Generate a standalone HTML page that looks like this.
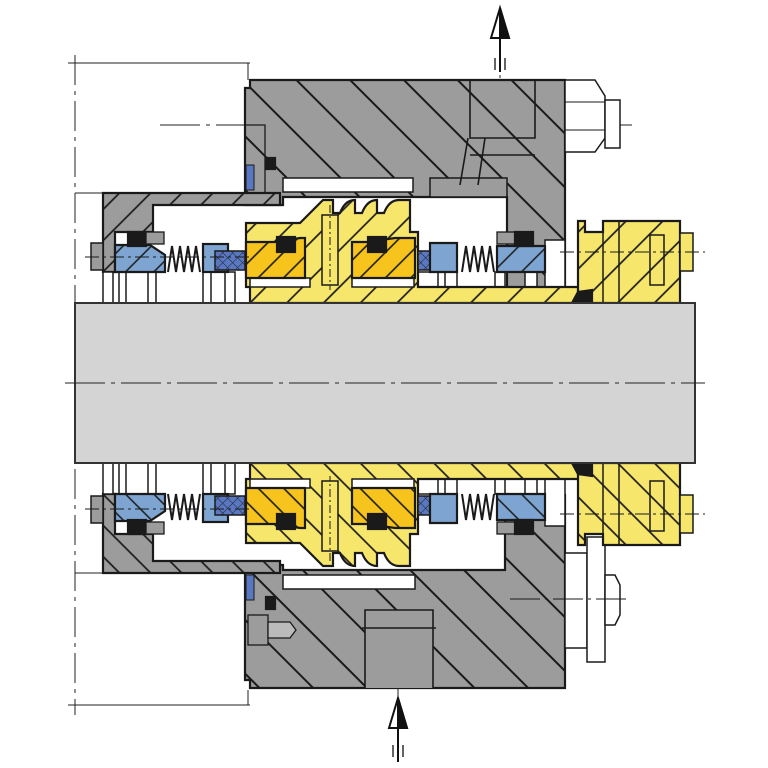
<!DOCTYPE html>
<html><head><meta charset="utf-8"><style>html,body{margin:0;padding:0;background:#fff}svg{display:block}</style></head><body>
<svg width="768" height="768" viewBox="0 0 768 768" xmlns="http://www.w3.org/2000/svg">
<defs>
<pattern id="hg" width="38" height="38" patternUnits="userSpaceOnUse" patternTransform="rotate(-45)"><rect width="38" height="38" fill="#9c9c9c"/><line x1="1" y1="0" x2="1" y2="38" stroke="#1a1a1a" stroke-width="2"/></pattern>
<pattern id="hg2" width="22" height="22" patternUnits="userSpaceOnUse" patternTransform="rotate(45)"><rect width="22" height="22" fill="#9c9c9c"/><line x1="1" y1="0" x2="1" y2="22" stroke="#1a1a1a" stroke-width="1.7"/></pattern>
<pattern id="hy" width="26" height="26" patternUnits="userSpaceOnUse" patternTransform="rotate(45)"><rect width="26" height="26" fill="#f7e66c"/><line x1="1" y1="0" x2="1" y2="26" stroke="#1a1a1a" stroke-width="1.7"/></pattern>
<pattern id="ho" width="18" height="18" patternUnits="userSpaceOnUse" patternTransform="rotate(45)"><rect width="18" height="18" fill="#f6c41c"/><line x1="1" y1="0" x2="1" y2="18" stroke="#1a1a1a" stroke-width="1.6"/></pattern>
<pattern id="hb" width="20" height="20" patternUnits="userSpaceOnUse" patternTransform="rotate(45)"><rect width="20" height="20" fill="#7ea5d2"/><line x1="1" y1="0" x2="1" y2="20" stroke="#1a1a1a" stroke-width="1.5"/></pattern>
<pattern id="hx" width="7" height="7" patternUnits="userSpaceOnUse" patternTransform="rotate(45)"><rect width="7" height="7" fill="#5a78c0"/><line x1="0" y1="0" x2="0" y2="7" stroke="#223" stroke-width="1"/><line x1="0" y1="0" x2="7" y2="0" stroke="#223" stroke-width="1"/></pattern>
<g id="seal" stroke="#1a1a1a" stroke-width="2.2">
  <path d="M103,193 H280 V205 H153 V232 H115 V272 H103 Z" fill="url(#hg2)"/>
  <rect x="91" y="243" width="12" height="27" fill="#9c9c9c" stroke-width="1.5"/>
  <g fill="#fff" stroke-width="1.5">
    <rect x="103" y="272" width="10" height="31"/><rect x="119" y="272" width="7" height="31"/>
    <rect x="148" y="272" width="8" height="31"/><rect x="203" y="272" width="8" height="31"/>
    <rect x="225" y="272" width="10" height="31"/><rect x="495" y="272" width="10" height="15"/>
    <rect x="525" y="272" width="12" height="15"/><rect x="545" y="240" width="20" height="47"/>
    <rect x="418" y="272" width="20" height="15"/><rect x="445" y="272" width="12" height="15"/>
  </g>
  <path d="M115,245 H150 L165,255 V272 H115 Z" fill="url(#hb)"/>
  <rect x="128" y="232" width="18" height="14" fill="#1a1a1a"/>
  <rect x="146" y="232" width="18" height="12" fill="#9c9c9c" stroke-width="1.3"/>
  <path d="M168,272 L172,246 L176,272 L180,246 L184,272 L188,246 L192,272 L196,246 L200,272" fill="none" stroke-width="2"/>
  <rect x="203" y="244" width="25" height="28" fill="#7ea5d2"/>
  <rect x="215" y="251" width="30" height="19" fill="url(#hx)" stroke-width="1.5"/>
  <path d="M246,223 H300 L323,200 H333 V213 H340 Q345,200 355,200 V213 H362 Q367,200 377,200 V213 H384 Q389,200 399,200 H410 V232 H418 V287 H578 L592,285 V303 H250 V287 H246 Z" fill="url(#hy)"/>
  <rect x="250" y="278" width="60" height="9" fill="#fff" stroke-width="1.5"/>
  <rect x="352" y="278" width="62" height="9" fill="#fff" stroke-width="1.5"/>
  <path d="M246,242 H275 L300,238 H305 V278 H246 Z" fill="url(#ho)"/>
  <path d="M352,242 H368 L395,238 H415 V278 H352 Z" fill="url(#ho)"/>
  <rect x="277" y="237" width="18" height="15" fill="#1a1a1a"/>
  <rect x="368" y="237" width="18" height="15" fill="#1a1a1a"/>
  <rect x="322" y="215" width="16" height="70" fill="#f7e66c" stroke-width="1.5"/>
  <line x1="330" y1="205" x2="330" y2="290" stroke-width="1" stroke-dasharray="8,3,2,3"/>
  <rect x="418" y="251" width="22" height="19" fill="url(#hx)" stroke-width="1.5"/>
  <path d="M430,243 H457 V272 H430 Z" fill="#7ea5d2"/>
  <path d="M462,272 L466,246 L470,272 L474,246 L478,272 L482,246 L486,272 L490,246 L494,272" fill="none" stroke-width="2"/>
  <path d="M497,246 H545 V272 H497 Z" fill="url(#hb)"/>
  <rect x="497" y="232" width="18" height="12" fill="#9c9c9c" stroke-width="1.3"/>
  <rect x="515" y="232" width="18" height="14" fill="#1a1a1a"/>
  <path d="M578,221 H585 V232 H603 V221 H680 V303 H592 V290 L578,292 Z" fill="url(#hy)"/>
  <rect x="603" y="221" width="16" height="82" fill="none" stroke-width="1.5"/>
  <rect x="650" y="235" width="14" height="50" fill="none" stroke-width="1.5"/>
  <rect x="680" y="233" width="13" height="38" fill="#f7e66c" stroke-width="1.5"/>
  <path d="M572,303 L578,292 H590 V303 Z" fill="#1a1a1a"/>
  <line x1="560" y1="252" x2="705" y2="252" stroke-width="1" stroke-dasharray="14,4,3,4"/>
  <line x1="85" y1="257" x2="250" y2="257" stroke-width="1" stroke-dasharray="14,4,3,4"/>
</g>
</defs>
<g stroke="#222" stroke-width="1" fill="none">
  <line x1="75" y1="55" x2="75" y2="715" stroke-dasharray="30,6,4,6"/>
  <line x1="68" y1="63" x2="250" y2="63"/>
  <line x1="68" y1="705" x2="250" y2="705"/>
  <line x1="248" y1="63" x2="248" y2="80"/>
  <line x1="248" y1="690" x2="248" y2="705"/>
  <line x1="75" y1="193" x2="103" y2="193"/>
  <line x1="75" y1="573" x2="103" y2="573"/>
  <line x1="160" y1="125" x2="632" y2="125" stroke-dasharray="40,6,4,6"/>
  <line x1="500" y1="40" x2="500" y2="190" stroke-dasharray="30,5,3,5"/>
  <line x1="398" y1="590" x2="398" y2="700" stroke-dasharray="30,5,3,5"/>
</g>
<g stroke="#1a1a1a" stroke-width="2.2">
  <path d="M250,80 H565 V288 H507 V197 H283 V205 H245 V88 H250 Z" fill="url(#hg)"/>
  <rect x="283" y="178" width="130" height="14" fill="#fff" stroke-width="1.5"/>
  <rect x="430" y="178" width="77" height="19" fill="#9c9c9c" stroke-width="1.5"/>
  <path d="M470,80 V138 H535 V80 M468,138 L460,185 M485,138 L478,185 M470,155 H535" fill="none" stroke-width="1.6"/>
  <path d="M245,125 H265 V195" fill="none" stroke-width="1.3"/>
  <rect x="266" y="158" width="9" height="11" fill="#1a1a1a"/>
  <rect x="246" y="165" width="8" height="25" fill="#5a78c0" stroke-width="1"/>
  <path d="M565,80 H595 L605,96 V138 L595,152 H565 Z" fill="#fff" stroke-width="1.5"/>
  <path d="M565,102 H605 M565,130 H605" stroke-width="1"/>
  <rect x="605" y="100" width="15" height="48" fill="#fff" stroke-width="1.5"/>
</g>
<g stroke="#1a1a1a" stroke-width="2.2">
  <path d="M245,565 H283 V570 H505 V495 H565 V688 H250 V680 H245 Z" fill="url(#hg)"/>
  <rect x="283" y="575" width="132" height="14" fill="#fff" stroke-width="1.5"/>
  <path d="M365,688 V610 H433 V688 M362,628 H436" fill="#9c9c9c" stroke-width="1.6"/>
  <rect x="246" y="575" width="8" height="25" fill="#5a78c0" stroke-width="1"/>
  <rect x="266" y="597" width="9" height="12" fill="#1a1a1a"/>
  <rect x="248" y="615" width="20" height="30" fill="#9c9c9c" stroke-width="1.3"/>
  <path d="M268,622 H290 L296,630 L290,638 H268 Z" fill="#bbb" stroke-width="1.3"/>
  <rect x="565" y="553" width="22" height="95" fill="#fff" stroke-width="1.5"/>
  <rect x="587" y="537" width="18" height="125" fill="#fff" stroke-width="1.5"/>
  <path d="M605,575 H615 L620,585 V615 L615,625 H605 Z" fill="#fff" stroke-width="1.5"/>
  <line x1="510" y1="599" x2="630" y2="599" stroke-width="1" stroke-dasharray="30,5,3,5"/>
</g>
<use href="#seal"/>
<use href="#seal" transform="matrix(1,0,0,-1,0,766)"/>
<rect x="75" y="303" width="620" height="160" fill="#d4d4d4" stroke="#333" stroke-width="2"/>
<line x1="65" y1="383" x2="705" y2="383" stroke="#222" stroke-width="1" stroke-dasharray="40,6,4,6"/>
<g stroke="#111" stroke-width="2">
  <line x1="500" y1="35" x2="500" y2="72"/>
  <path d="M491,38 L500,8 L509,38 Z" fill="#fff"/>
  <path d="M500,8 L509,38 H500 Z" fill="#111"/>
  <line x1="495" y1="58" x2="495" y2="70" stroke-width="1.3"/><line x1="505" y1="58" x2="505" y2="70" stroke-width="1.3"/>
  <line x1="398" y1="725" x2="398" y2="762"/>
  <path d="M389,728 L398,698 L407,728 Z" fill="#fff"/>
  <path d="M398,698 L407,728 H398 Z" fill="#111"/>
  <line x1="393" y1="745" x2="393" y2="757" stroke-width="1.3"/><line x1="403" y1="745" x2="403" y2="757" stroke-width="1.3"/>
</g>
</svg>
</body></html>
